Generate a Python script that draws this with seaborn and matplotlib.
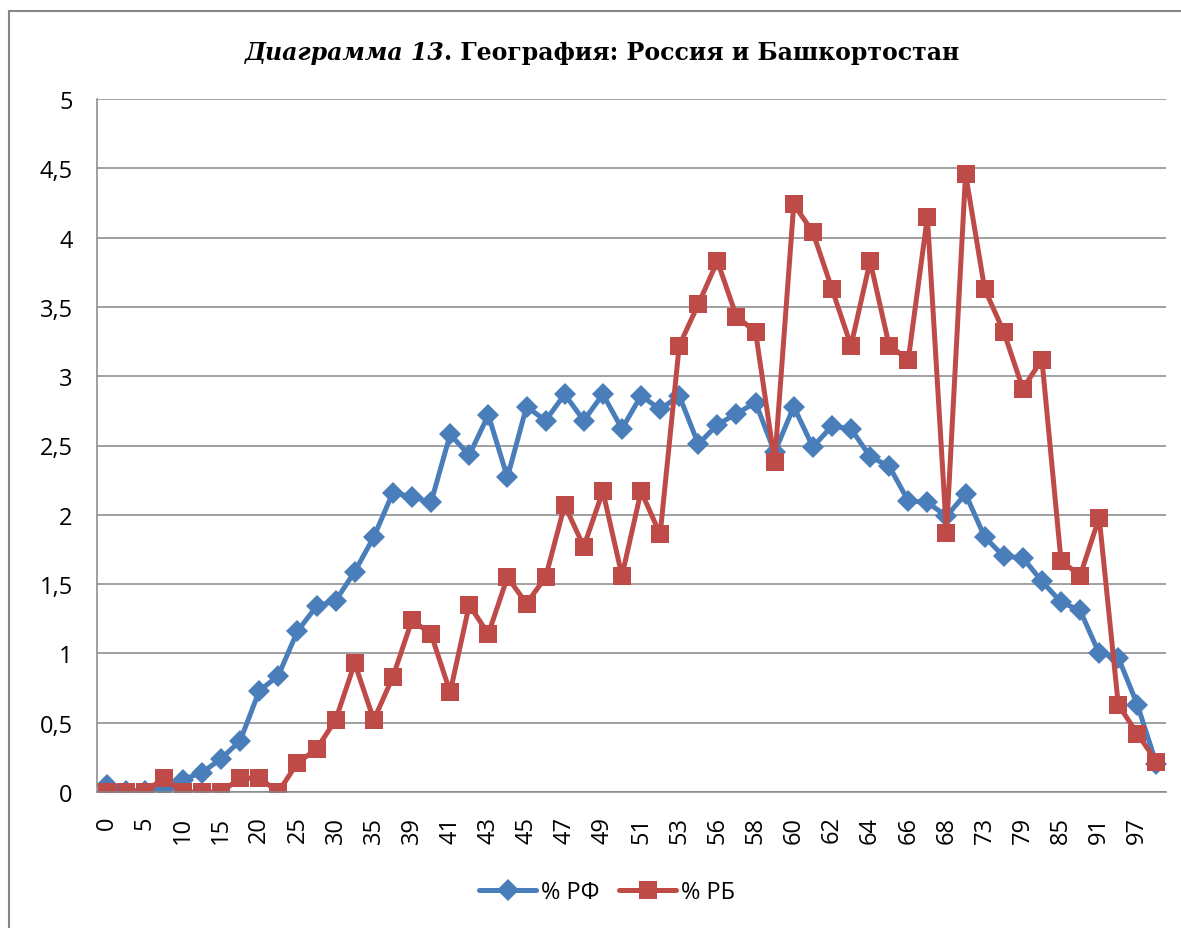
import matplotlib
matplotlib.use('Agg')
import matplotlib.pyplot as plt
from matplotlib.patches import Rectangle
from matplotlib.ticker import FixedLocator
import seaborn as sns
import pandas as pd

# Excel-like palette
BLUE = '#4A7EBB'
RED = '#BE4B48'
GRID = '#868686'

# age categories (only every other one is labelled on the axis)
categories = ['0', '2', '5', '7', '10', '12', '15', '17', '20', '22',
              '25', '27', '30', '32', '35', '37', '39', '40', '41', '42',
              '43', '44', '45', '46', '47', '48', '49', '50', '51', '52',
              '53', '55', '56', '57', '58', '59', '60', '61', '62', '63',
              '64', '65', '66', '67', '68', '70', '73', '76', '79', '82',
              '85', '88', '91', '94', '97', '100']

pct_rf = [0.05, 0.01, 0.01, 0.02, 0.09, 0.14, 0.24, 0.37, 0.73, 0.84,
          1.16, 1.34, 1.38, 1.59, 1.84, 2.16, 2.13, 2.09, 2.58, 2.43,
          2.72, 2.27, 2.78, 2.68, 2.87, 2.68, 2.87, 2.62, 2.86, 2.76,
          2.86, 2.51, 2.65, 2.73, 2.81, 2.45, 2.78, 2.49, 2.64, 2.62,
          2.42, 2.35, 2.10, 2.09, 1.99, 2.15, 1.84, 1.70, 1.69, 1.52,
          1.37, 1.31, 1.00, 0.97, 0.63, 0.20]

pct_rb = [0.00, 0.00, 0.00, 0.10, 0.00, 0.00, 0.00, 0.10, 0.10, 0.00,
          0.21, 0.31, 0.52, 0.93, 0.52, 0.83, 1.24, 1.14, 0.72, 1.35,
          1.14, 1.55, 1.36, 1.55, 2.07, 1.77, 2.17, 1.56, 2.17, 1.86,
          3.22, 3.52, 3.83, 3.43, 3.32, 2.38, 4.24, 4.04, 3.63, 3.22,
          3.83, 3.22, 3.12, 4.15, 1.87, 4.46, 3.63, 3.32, 2.91, 3.12,
          1.67, 1.56, 1.98, 0.63, 0.42, 0.22]

y_ticks = [0, 0.5, 1, 1.5, 2, 2.5, 3, 3.5, 4, 4.5, 5]
y_labels = ['0', '0,5', '1', '1,5', '2', '2,5', '3', '3,5', '4', '4,5', '5']

n = len(categories)
df = pd.DataFrame({
    'idx': list(range(n)) * 2,
    'value': pct_rf + pct_rb,
    'series': ['% РФ'] * n + ['% РБ'] * n,
})

sns.set_style('white')
plt.rcParams['font.family'] = ['Open Sans', 'DejaVu Sans']
plt.rcParams['text.color'] = 'black'
plt.rcParams['xtick.color'] = 'black'
plt.rcParams['ytick.color'] = 'black'

W, H = 1181, 929
fig = plt.figure(figsize=(W / 100, H / 100), dpi=100)
ax = fig.add_axes([97 / W, 1 - 793 / H, (1166 - 97) / W, (793 - 100) / H])

sns.lineplot(data=df, x='idx', y='value', hue='series', style='series',
             palette={'% РФ': BLUE, '% РБ': RED},
             markers={'% РФ': 'D', '% РБ': 's'}, dashes=False,
             linewidth=3.6, markersize=12, markeredgewidth=0,
             legend=False, ax=ax)
ax.lines[0].set_markersize(11.5)
ax.lines[1].set_markersize(13.5)

ax.set_xlim(-0.5, n - 0.5)
ax.set_ylim(0, 5)
ax.set_xlabel('')
ax.set_ylabel('')

# x: labels on every other category, tick marks between categories
ax.set_xticks(range(0, n, 2))
ax.set_xticklabels(categories[::2], rotation=90, fontsize=17)
ax.xaxis.set_minor_locator(FixedLocator([i - 0.5 for i in range(n + 1)]))
ax.tick_params(axis='x', which='major', length=0, pad=17, labelcolor='black')
ax.tick_params(axis='x', which='minor', length=6.5, width=1.1, color=GRID, direction='out')

ax.set_yticks(y_ticks)
ax.set_yticklabels(y_labels, fontsize=17)
ax.tick_params(axis='y', length=6.5, width=1.1, color=GRID, pad=11, direction='out',
               labelcolor='black')

ax.grid(True, axis='y', color=GRID, linewidth=1.1)
ax.set_axisbelow(True)
for side in ['top', 'right']:
    ax.spines[side].set_visible(False)
for side in ['left', 'bottom']:
    ax.spines[side].set_color(GRID)
    ax.spines[side].set_linewidth(1.1)

# legend at the bottom
handles = ax.lines[:2]
fig.legend(handles, ['% РФ', '% РБ'], loc='center', bbox_to_anchor=(607 / W, 1 - 893 / H),
           ncol=2, frameon=False, fontsize=17, handlelength=2.4, handletextpad=0.2,
           columnspacing=0.85, labelcolor='black')

# chart border (Excel chart area)
fig.patches.append(Rectangle((9 / W, -0.05), 1.1, 1 - 12 / H + 0.05, transform=fig.transFigure,
                             fill=False, edgecolor=GRID, linewidth=1.5))

# title: italic part + bold part, centred together
ty = 1 - 60 / H
t1 = fig.text(0, ty, 'Диаграмма 13', family='DejaVu Serif', fontsize=17, color='black',
              fontstyle='italic', fontweight='bold', ha='left', va='baseline')
t2 = fig.text(0, ty, '. География: Россия и Башкортостан', family='DejaVu Serif',
              fontsize=17, fontweight='bold', color='black', ha='left', va='baseline')
fig.canvas.draw()
r = fig.canvas.get_renderer()
w1 = t1.get_window_extent(r).width
w2 = t2.get_window_extent(r).width
x0 = 602 - (w1 + w2) / 2
t1.set_x(x0 / W)
t2.set_x((x0 + w1) / W)

fig.savefig('out.png', dpi=100)
